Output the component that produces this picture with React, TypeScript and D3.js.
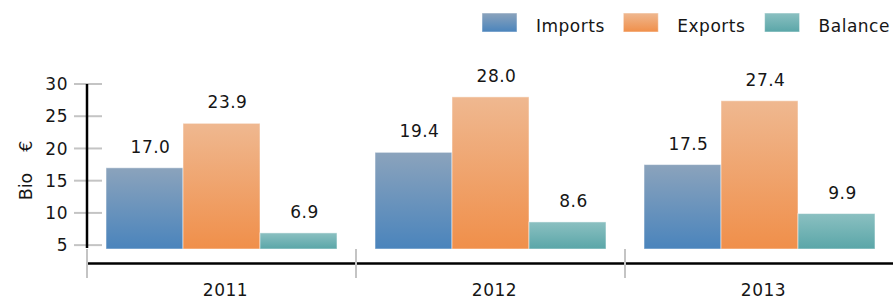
import { useRef, useEffect } from 'react';
import * as d3 from 'd3';

const years = ['2011', '2012', '2013'];
const imports = [17.0, 19.4, 17.5];
const exportsVals = [23.9, 28.0, 27.4];
const balance = [6.9, 8.6, 9.9];
const seriesNames = ['Imports', 'Exports', 'Balance'];
const yTicks = [5, 10, 15, 20, 25, 30];

const App = () => {
  const ref = useRef<SVGSVGElement>(null);

  useEffect(() => {
    d3.select(ref.current).selectAll('*').remove();

    const width = 893;
    const height = 299;
    const left = 87;
    const top = 84;
    const bottom = 249;
    const font = '"DejaVu Sans", Verdana, sans-serif';
    const ink = '#161616';

    const svg = d3.select(ref.current)
      .attr('width', width)
      .attr('height', height)
      .attr('font-family', font);

    // gradients for the bars
    const grads = [
      ['#8ba3bc', '#4a84bc'],
      ['#efb890', '#f08f4a'],
      ['#8bc0c1', '#5aa6a8'],
    ];
    const defs = svg.append('defs');
    grads.forEach((g, i) => {
      const lg = defs.append('linearGradient')
        .attr('id', 'grad' + i)
        .attr('x1', 0).attr('y1', 0).attr('x2', 0).attr('y2', 1);
      lg.append('stop').attr('offset', '0%').attr('stop-color', g[0]);
      lg.append('stop').attr('offset', '100%').attr('stop-color', g[1]);
    });

    const series = [imports, exportsVals, balance];
    const rows = years.map((y, i) => ({ year: y, values: series.map(s => s[i]) }));

    const x0 = d3.scaleBand().domain(years).range([left, 894]).padding(0);
    const x1 = d3.scaleBand<number>()
      .domain([0, 1, 2])
      .range([0, x0.bandwidth()])
      .paddingInner(0)
      .paddingOuter(0.247);
    const y = d3.scaleLinear().domain([4.4, 30]).range([bottom, top]);

    // y ticks (grey) and axis line
    svg.append('g')
      .selectAll('line')
      .data(yTicks)
      .join('line')
      .attr('x1', 74).attr('x2', 102)
      .attr('y1', d => y(d)).attr('y2', d => y(d))
      .attr('stroke', '#c4c4c4')
      .attr('stroke-width', 2);

    svg.append('g')
      .selectAll('text')
      .data(yTicks)
      .join('text')
      .attr('x', 68)
      .attr('y', d => y(d))
      .attr('dy', '0.36em')
      .attr('text-anchor', 'end')
      .attr('font-size', 17)
      .attr('letter-spacing', 0.5)
      .attr('fill', ink)
      .text(d => d);

    svg.append('line')
      .attr('x1', left).attr('x2', left)
      .attr('y1', y(30)).attr('y2', bottom - 1)
      .attr('stroke', '#000')
      .attr('stroke-width', 2.5);

    // bars
    const group = svg.append('g')
      .selectAll('g')
      .data(rows)
      .join('g')
      .attr('transform', d => `translate(${x0(d.year)},0)`);

    group.selectAll('rect')
      .data(d => d.values)
      .join('rect')
      .attr('x', (d, i) => x1(i)!)
      .attr('width', x1.bandwidth())
      .attr('y', d => y(d))
      .attr('height', d => bottom - y(d))
      .attr('fill', (d, i) => `url(#grad${i})`)
      .attr('stroke', '#fff')
      .attr('stroke-opacity', 0.5)
      .attr('stroke-width', 1);

    group.selectAll('text')
      .data(d => d.values)
      .join('text')
      .attr('x', (d, i) => x1(i)! + x1.bandwidth() / 2 + 6)
      .attr('y', d => y(d) - 15)
      .attr('text-anchor', 'middle')
      .attr('font-size', 17)
      .attr('letter-spacing', 0.5)
      .attr('fill', ink)
      .text(d => d.toFixed(1));

    // x axis
    svg.append('line')
      .attr('x1', left).attr('x2', width)
      .attr('y1', 263.5).attr('y2', 263.5)
      .attr('stroke', '#000')
      .attr('stroke-width', 2.5);

    svg.append('g')
      .selectAll('line')
      .data(years)
      .join('line')
      .attr('x1', d => x0(d)!).attr('x2', d => x0(d)!)
      .attr('y1', bottom).attr('y2', 278)
      .attr('stroke', '#c4c4c4')
      .attr('stroke-width', 2);

    svg.append('g')
      .selectAll('text')
      .data(years)
      .join('text')
      .attr('x', d => x0(d)! + x0.bandwidth() / 2 + 4)
      .attr('y', 295.5)
      .attr('text-anchor', 'middle')
      .attr('font-size', 17)
      .attr('letter-spacing', 0.5)
      .attr('fill', ink)
      .text(d => d);

    // y label
    const yl = svg.append('text')
      .attr('transform', 'translate(31.5,170.5) rotate(-90)')
      .attr('text-anchor', 'middle')
      .attr('font-size', 17.5)
      .attr('fill', ink);
    yl.append('tspan').text('Bio');
    yl.append('tspan').attr('dx', 21).text('€');

    // legend
    const legend = svg.append('g')
      .selectAll('g')
      .data(seriesNames)
      .join('g')
      .attr('transform', (d, i) => `translate(${482 + i * 141.3},13)`);

    legend.append('rect')
      .attr('width', 35)
      .attr('height', 19)
      .attr('fill', (d, i) => `url(#grad${i})`)
      .attr('stroke', '#fff')
      .attr('stroke-opacity', 0.5);

    legend.append('text')
      .attr('x', 54)
      .attr('y', 19)
      .attr('font-size', 17)
      .attr('letter-spacing', 0.5)
      .attr('fill', ink)
      .text(d => d);
  }, []);

  return (
    <svg ref={ref} style={{ position: 'absolute', left: 0, top: 0, width: '893px', height: '299px' }} />
  );
};

export default App;
